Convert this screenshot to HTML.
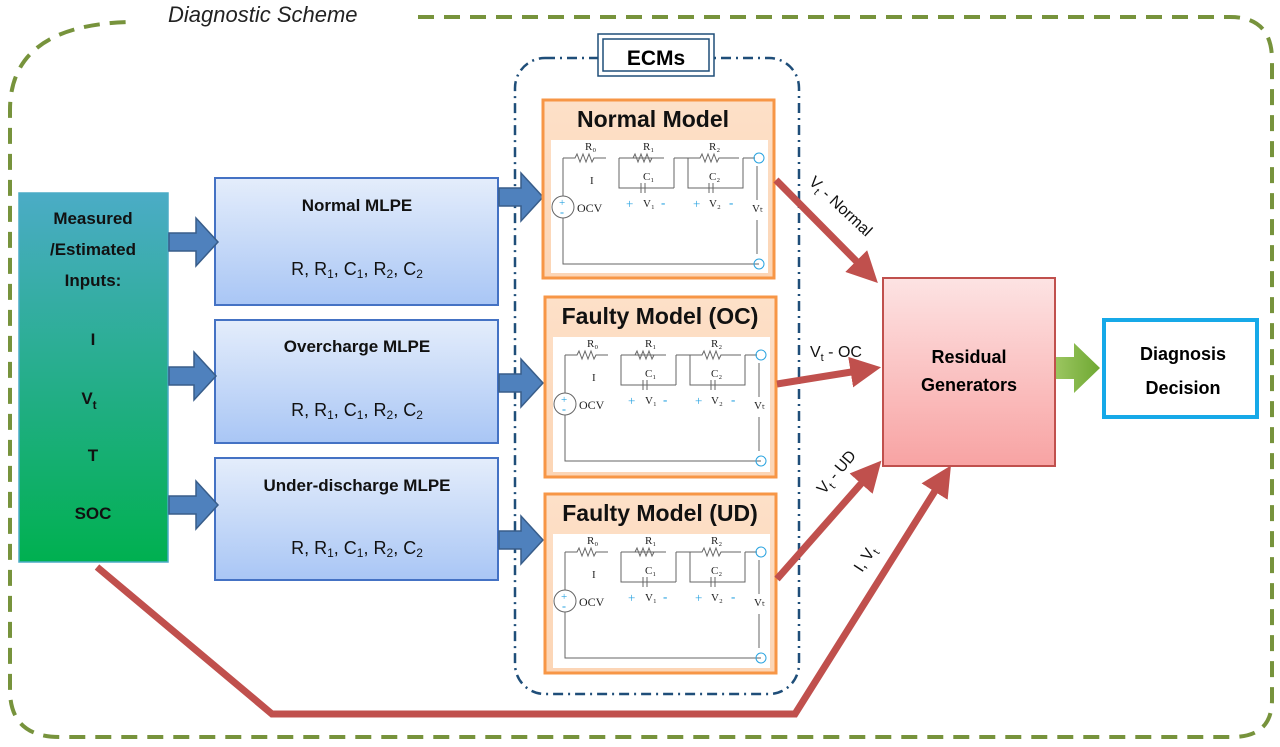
<!DOCTYPE html>
<html><head><meta charset="utf-8"><style>
html,body{margin:0;padding:0;background:#fff;}
svg{display:block;font-family:"Liberation Sans",sans-serif;}
.ser{font-family:"Liberation Serif",serif;}
</style></head><body>
<svg width="1280" height="747" viewBox="0 0 1280 747" xmlns="http://www.w3.org/2000/svg">
<defs>
<linearGradient id="gg" x1="0" y1="0" x2="0" y2="1"><stop offset="0" stop-color="#4bacc6"/><stop offset="1" stop-color="#00b050"/></linearGradient>
<linearGradient id="bg" x1="0" y1="0" x2="0" y2="1"><stop offset="0" stop-color="#e4edfb"/><stop offset="1" stop-color="#a9c6f5"/></linearGradient>
<linearGradient id="rg" x1="0" y1="0" x2="0" y2="1"><stop offset="0" stop-color="#fde3e3"/><stop offset="1" stop-color="#f8a3a3"/></linearGradient>
<linearGradient id="og" x1="0" y1="0" x2="0" y2="1"><stop offset="0" stop-color="#fde0c8"/><stop offset="1" stop-color="#fcd5b5"/></linearGradient>
<linearGradient id="gr" x1="0" y1="0" x2="1" y2="0"><stop offset="0" stop-color="#9bc560"/><stop offset="1" stop-color="#6ea832"/></linearGradient>
<marker id="ah" markerWidth="4.4" markerHeight="4.4" refX="2.8" refY="2.2" orient="auto" markerUnits="strokeWidth"><path d="M0,0 L4.4,2.2 L0,4.4 Z" fill="#c0504d"/></marker>
</defs>

<!-- outer dashed -->
<path d="M418,17 L1230,17 Q1272,17 1272,60 L1272,700 Q1272,737 1232,737 L60,737 Q10,737 10,690 L10,110 Q10,25 130,22" fill="none" stroke="#77933c" stroke-width="4" stroke-dasharray="16,10"/>
<text x="168" y="22" font-size="22" font-style="italic" fill="#222">Diagnostic Scheme</text>

<!-- ECMs dash-dot -->
<rect x="515" y="58" width="284" height="636" rx="30" fill="none" stroke="#1f4e79" stroke-width="2.5" stroke-dasharray="10,5,2,5"/>
<rect x="598" y="34" width="116" height="42" fill="#fff" stroke="#1f4e79" stroke-width="1.5"/>
<rect x="603" y="39" width="106" height="32" fill="#fff" stroke="#1f4e79" stroke-width="1.5"/>
<text x="656" y="65" font-size="21" font-weight="bold" text-anchor="middle">ECMs</text>

<!-- green input box -->
<rect x="19" y="193" width="149" height="369" fill="url(#gg)" stroke="#4bacc6" stroke-width="1.5"/>
<g font-weight="bold" font-size="17" text-anchor="middle" fill="#111">
<text x="93" y="224">Measured</text>
<text x="93" y="255">/Estimated</text>
<text x="93" y="286">Inputs:</text>
<text x="93" y="345">I</text>
<text x="89" y="404">V<tspan font-size="12" dy="5">t</tspan></text>
<text x="93" y="461">T</text>
<text x="93" y="519">SOC</text>
</g>

<!-- MLPE boxes -->
<g stroke="#4472c4" stroke-width="2" fill="url(#bg)">
<rect x="215" y="178" width="283" height="127"/>
<rect x="215" y="320" width="283" height="123"/>
<rect x="215" y="458" width="283" height="122"/>
</g>
<g text-anchor="middle" fill="#111">
<text x="357" y="211" font-size="17" font-weight="bold">Normal MLPE</text>
<text x="357" y="352" font-size="17" font-weight="bold">Overcharge MLPE</text>
<text x="357" y="491" font-size="17" font-weight="bold">Under-discharge MLPE</text>
<g font-size="18">
<text x="357" y="275">R, R<tspan font-size="12" dy="3">1</tspan><tspan dy="-3">, C</tspan><tspan font-size="12" dy="3">1</tspan><tspan dy="-3">, R</tspan><tspan font-size="12" dy="3">2</tspan><tspan dy="-3">, C</tspan><tspan font-size="12" dy="3">2</tspan></text>
<text x="357" y="416">R, R<tspan font-size="12" dy="3">1</tspan><tspan dy="-3">, C</tspan><tspan font-size="12" dy="3">1</tspan><tspan dy="-3">, R</tspan><tspan font-size="12" dy="3">2</tspan><tspan dy="-3">, C</tspan><tspan font-size="12" dy="3">2</tspan></text>
<text x="357" y="554">R, R<tspan font-size="12" dy="3">1</tspan><tspan dy="-3">, C</tspan><tspan font-size="12" dy="3">1</tspan><tspan dy="-3">, R</tspan><tspan font-size="12" dy="3">2</tspan><tspan dy="-3">, C</tspan><tspan font-size="12" dy="3">2</tspan></text>
</g></g>

<!-- blue block arrows -->
<g fill="#4f81bd" stroke="#385d8a" stroke-width="1.5">
<path d="M169,233 h27 v-15 l22,24 l-22,24 v-15 h-27 z"/>
<path d="M169,367 h25 v-15 l22,24 l-22,24 v-15 h-25 z"/>
<path d="M169,496 h27 v-15 l22,24 l-22,24 v-15 h-27 z"/>
<path d="M499,188 h22 v-15 l22,24 l-22,24 v-15 h-22 z"/>
<path d="M499,374 h22 v-15 l22,24 l-22,24 v-15 h-22 z"/>
<path d="M499,531 h22 v-15 l22,24 l-22,24 v-15 h-22 z"/>
</g>

<!-- model boxes -->
<g stroke="#f79646" stroke-width="3" fill="url(#og)">
<rect x="543" y="100" width="231" height="178"/>
<rect x="545" y="297" width="231" height="180"/>
<rect x="545" y="494" width="231" height="179"/>
</g>
<g font-size="23" font-weight="bold" text-anchor="middle" fill="#111">
<text x="653" y="127">Normal Model</text>
<text x="660" y="324">Faulty Model (OC)</text>
<text x="660" y="521">Faulty Model (UD)</text>
</g>

<!-- circuits -->
<g fill="none" stroke="#666" stroke-width="1">
<g transform="translate(543,100)">
<rect x="8" y="40" width="217" height="133" fill="#fff" stroke="none"/>
<path d="M20,58 h12 l2,-4 l3,8 l3,-8 l3,8 l3,-8 l3,8 l2,-4 h12 M20,58 v38 M20,118 v46 h196 M76,58 h45 M76,58 v30 h55 M131,58 v30 M90,58 l2,-4 l3,8 l3,-8 l3,8 l3,-8 l3,8 l2,-4 M131,58 h14 v30 h55 v-30 M145,58 h12 l2,-4 l3,8 l3,-8 l3,8 l3,-8 l3,8 l2,-4 h20 M200,58 h12 M98,88 m0,-5 v10 M102,83 v10 M166,83 v10 M170,83 v10 M214,66 v34 M214,120 v34"/>
<circle cx="20" cy="107" r="11"/><circle cx="216" cy="58" r="5" stroke="#29a3e0"/><circle cx="216" cy="164" r="5" stroke="#29a3e0"/>
</g>
<g transform="translate(545,297)">
<rect x="8" y="40" width="217" height="135" fill="#fff" stroke="none"/>
<path d="M20,58 h12 l2,-4 l3,8 l3,-8 l3,8 l3,-8 l3,8 l2,-4 h12 M20,58 v38 M20,118 v46 h196 M76,58 h45 M76,58 v30 h55 M131,58 v30 M90,58 l2,-4 l3,8 l3,-8 l3,8 l3,-8 l3,8 l2,-4 M131,58 h14 v30 h55 v-30 M145,58 h12 l2,-4 l3,8 l3,-8 l3,8 l3,-8 l3,8 l2,-4 h20 M200,58 h12 M98,88 m0,-5 v10 M102,83 v10 M166,83 v10 M170,83 v10 M214,66 v34 M214,120 v34"/>
<circle cx="20" cy="107" r="11"/><circle cx="216" cy="58" r="5" stroke="#29a3e0"/><circle cx="216" cy="164" r="5" stroke="#29a3e0"/>
</g>
<g transform="translate(545,494)">
<rect x="8" y="40" width="217" height="134" fill="#fff" stroke="none"/>
<path d="M20,58 h12 l2,-4 l3,8 l3,-8 l3,8 l3,-8 l3,8 l2,-4 h12 M20,58 v38 M20,118 v46 h196 M76,58 h45 M76,58 v30 h55 M131,58 v30 M90,58 l2,-4 l3,8 l3,-8 l3,8 l3,-8 l3,8 l2,-4 M131,58 h14 v30 h55 v-30 M145,58 h12 l2,-4 l3,8 l3,-8 l3,8 l3,-8 l3,8 l2,-4 h20 M200,58 h12 M98,88 m0,-5 v10 M102,83 v10 M166,83 v10 M170,83 v10 M214,66 v34 M214,120 v34"/>
<circle cx="20" cy="107" r="11"/><circle cx="216" cy="58" r="5" stroke="#29a3e0"/><circle cx="216" cy="164" r="5" stroke="#29a3e0"/>
</g>
</g>
<g class="ser" font-size="11" fill="#222">
<g transform="translate(543,100)">
<text x="42" y="50">R₀</text><text x="100" y="50">R₁</text><text x="166" y="50">R₂</text><text x="47" y="84">I</text><text x="100" y="80">C₁</text><text x="166" y="80">C₂</text>
<text x="34" y="112" font-size="12">OCV</text><text x="209" y="112">Vₜ</text>
<text x="83" y="108" fill="#29a3e0" font-size="13">+</text><text x="100" y="107">V₁</text><text x="118" y="107" fill="#29a3e0" font-size="13" font-weight="bold">-</text>
<text x="150" y="108" fill="#29a3e0" font-size="13">+</text><text x="166" y="107">V₂</text><text x="186" y="107" fill="#29a3e0" font-size="13" font-weight="bold">-</text>
<text x="16" y="106" fill="#29a3e0" font-size="11">+</text><text x="17" y="116" fill="#29a3e0" font-size="12" font-weight="bold">-</text>
</g>
<g transform="translate(545,297)">
<text x="42" y="50">R₀</text><text x="100" y="50">R₁</text><text x="166" y="50">R₂</text><text x="47" y="84">I</text><text x="100" y="80">C₁</text><text x="166" y="80">C₂</text>
<text x="34" y="112" font-size="12">OCV</text><text x="209" y="112">Vₜ</text>
<text x="83" y="108" fill="#29a3e0" font-size="13">+</text><text x="100" y="107">V₁</text><text x="118" y="107" fill="#29a3e0" font-size="13" font-weight="bold">-</text>
<text x="150" y="108" fill="#29a3e0" font-size="13">+</text><text x="166" y="107">V₂</text><text x="186" y="107" fill="#29a3e0" font-size="13" font-weight="bold">-</text>
<text x="16" y="106" fill="#29a3e0" font-size="11">+</text><text x="17" y="116" fill="#29a3e0" font-size="12" font-weight="bold">-</text>
</g>
<g transform="translate(545,494)">
<text x="42" y="50">R₀</text><text x="100" y="50">R₁</text><text x="166" y="50">R₂</text><text x="47" y="84">I</text><text x="100" y="80">C₁</text><text x="166" y="80">C₂</text>
<text x="34" y="112" font-size="12">OCV</text><text x="209" y="112">Vₜ</text>
<text x="83" y="108" fill="#29a3e0" font-size="13">+</text><text x="100" y="107">V₁</text><text x="118" y="107" fill="#29a3e0" font-size="13" font-weight="bold">-</text>
<text x="150" y="108" fill="#29a3e0" font-size="13">+</text><text x="166" y="107">V₂</text><text x="186" y="107" fill="#29a3e0" font-size="13" font-weight="bold">-</text>
<text x="16" y="106" fill="#29a3e0" font-size="11">+</text><text x="17" y="116" fill="#29a3e0" font-size="12" font-weight="bold">-</text>
</g>
</g>

<!-- residual box -->
<rect x="883" y="278" width="172" height="188" fill="url(#rg)" stroke="#c0504d" stroke-width="2"/>
<text x="969" y="363" font-size="18" font-weight="bold" text-anchor="middle">Residual</text>
<text x="969" y="391" font-size="18" font-weight="bold" text-anchor="middle">Generators</text>

<!-- green arrow -->
<path d="M1056,357 h18 v-14 l26,25 l-26,25 v-14 h-18 z" fill="url(#gr)"/>

<!-- diagnosis -->
<rect x="1104" y="320" width="153" height="97" fill="#fff" stroke="#16a9e8" stroke-width="4"/>
<text x="1183" y="360" font-size="18" font-weight="bold" text-anchor="middle">Diagnosis</text>
<text x="1183" y="394" font-size="18" font-weight="bold" text-anchor="middle">Decision</text>

<!-- red connectors -->
<g stroke="#c0504d" stroke-width="7" fill="none" stroke-linejoin="miter">
<path d="M776,180 L870,275" marker-end="url(#ah)"/>
<path d="M777,384 L870,369" marker-end="url(#ah)"/>
<path d="M777,579 L874,469" marker-end="url(#ah)"/>
<path d="M97,567 L272,714 L795,714 L945,475" marker-end="url(#ah)"/>
</g>

<!-- connector labels -->
<g font-size="16" fill="#111">
<text transform="translate(808,183) rotate(43)">V<tspan font-size="11" dy="4">t</tspan><tspan dy="-4"> - Normal</tspan></text>
<text x="810" y="357">V<tspan font-size="11" dy="4">t</tspan><tspan dy="-4"> - OC</tspan></text>
<text transform="translate(824,495) rotate(-50)">V<tspan font-size="11" dy="4">t</tspan><tspan dy="-4"> - UD</tspan></text>
<text transform="translate(862,573) rotate(-57)">I, V<tspan font-size="11" dy="4">t</tspan></text>
</g>
</svg>
</body></html>
